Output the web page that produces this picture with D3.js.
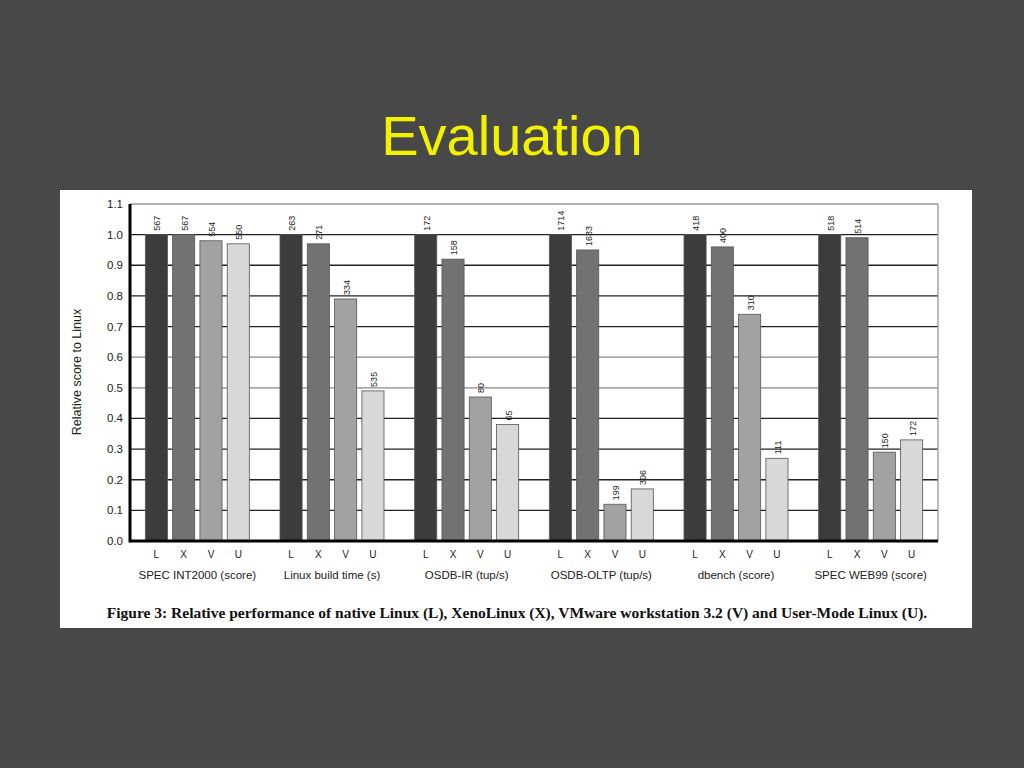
<!DOCTYPE html><html><head><meta charset="utf-8">
<script src="https://cdn.jsdelivr.net/npm/d3@7"></script>
<style>body{margin:0;background:#484848;}</style></head><body>
<svg id="c" width="1024" height="768"></svg>
<script>
const categories=["SPEC INT2000 (score)","Linux build time (s)","OSDB-IR (tup/s)","OSDB-OLTP (tup/s)","dbench (score)","SPEC WEB99 (score)"];
const systems=["L","X","V","U"];
const relL=[1.0,1.0,1.0,1.0,1.0,1.0];
const relX=[1.0,0.97,0.92,0.95,0.96,0.99];
const relV=[0.98,0.79,0.47,0.12,0.74,0.29];
const relU=[0.97,0.49,0.38,0.17,0.27,0.33];
const rawL=[567,263,172,1714,418,518];
const rawX=[567,271,158,1633,400,514];
const rawV=[554,334,80,199,310,150];
const rawU=[550,535,65,306,111,172];
const yTicks=[0,0.1,0.2,0.3,0.4,0.5,0.6,0.7,0.8,0.9,1.0,1.1];
const colors=["#3c3c3c","#727272","#a2a2a2","#d8d8d8"];
const rel=[relL,relX,relV,relU], raw=[rawL,rawX,rawV,rawU];

const svg=d3.select("#c");
svg.append("rect").attr("width",1024).attr("height",768).attr("fill","#484848");
svg.append("text").attr("x",512).attr("y",155).attr("text-anchor","middle")
 .attr("font-family","Liberation Sans, Arial").attr("font-size",56).attr("fill","#f2f200").text("Evaluation");
svg.append("rect").attr("x",60).attr("y",190).attr("width",912).attr("height",438).attr("fill","#fff");

const x0=130,x1=938;
const y=d3.scaleLinear().domain([0,1.1]).range([541,204]);
const gx=d3.scaleBand().domain(categories).range([x0,x1]);
const bx=d3.scaleBand().domain(systems).range([0,104]).paddingInner(0.19).paddingOuter(0);
const g=svg.append("g");
// grid
g.selectAll(".grid").data(yTicks.filter(t=>t>0)).enter().append("line")
 .attr("x1",x0).attr("x2",x1).attr("y1",d=>y(d)).attr("y2",d=>y(d))
 .attr("stroke",d=>Math.abs(d-1.1)<1e-6?"#999":([0.5,0.6].some(v=>Math.abs(v-d)<1e-6)?"#888":"#222")).attr("stroke-width",1.3);
g.append("line").attr("x1",x1).attr("x2",x1).attr("y1",y(1.1)).attr("y2",y(0)).attr("stroke","#999").attr("stroke-width",1.3);
// bars
categories.forEach((c,i)=>{
  const off=gx(c)+(gx.bandwidth()-104)/2;
  systems.forEach((s,j)=>{
    const xb=off+bx(s);
    g.append("rect").attr("x",xb).attr("y",y(rel[j][i])).attr("width",bx.bandwidth())
     .attr("height",y(0)-y(rel[j][i])).attr("fill",colors[j]).attr("stroke","#555").attr("stroke-width",0.8);
    const lx=xb+bx.bandwidth()/2+4, ly=y(rel[j][i])-4;
    g.append("text").attr("transform",`translate(${lx},${ly}) rotate(-90)`)
     .attr("font-family","Liberation Sans, Arial").attr("font-size",9).attr("fill","#222").text(raw[j][i]);
    g.append("text").attr("x",xb+bx.bandwidth()/2).attr("y",558).attr("text-anchor","middle")
     .attr("font-family","Liberation Sans, Arial").attr("font-size",10).attr("fill","#222").text(s);
  });
  g.append("text").attr("x",gx(c)+gx.bandwidth()/2).attr("y",579).attr("text-anchor","middle")
   .attr("font-family","Liberation Sans, Arial").attr("font-size",11.5).attr("fill","#222").text(c);
});
// axes
g.append("line").attr("x1",x0).attr("x2",x0).attr("y1",y(1.1)).attr("y2",y(0)+1.5).attr("stroke","#000").attr("stroke-width",3);
g.append("line").attr("x1",x0).attr("x2",x1).attr("y1",y(0)).attr("y2",y(0)).attr("stroke","#000").attr("stroke-width",3);
g.selectAll(".yt").data(yTicks).enter().append("text").attr("x",123).attr("y",d=>y(d)+4).attr("text-anchor","end")
 .attr("font-family","Liberation Sans, Arial").attr("font-size",11.5).attr("fill","#222").text(d=>d3.format(".1f")(d));
g.append("text").attr("transform","translate(81,372) rotate(-90)").attr("text-anchor","middle")
 .attr("font-family","Liberation Sans, Arial").attr("font-size",12.5).attr("fill","#222").text("Relative score to Linux");
svg.append("text").attr("x",517).attr("y",618).attr("text-anchor","middle")
 .attr("font-family","Liberation Serif, Times New Roman").attr("font-weight","bold").attr("font-size",15.5).attr("fill","#111")
 .text("Figure 3: Relative performance of native Linux (L), XenoLinux (X), VMware workstation 3.2 (V) and User-Mode Linux (U).");
</script></body></html>
